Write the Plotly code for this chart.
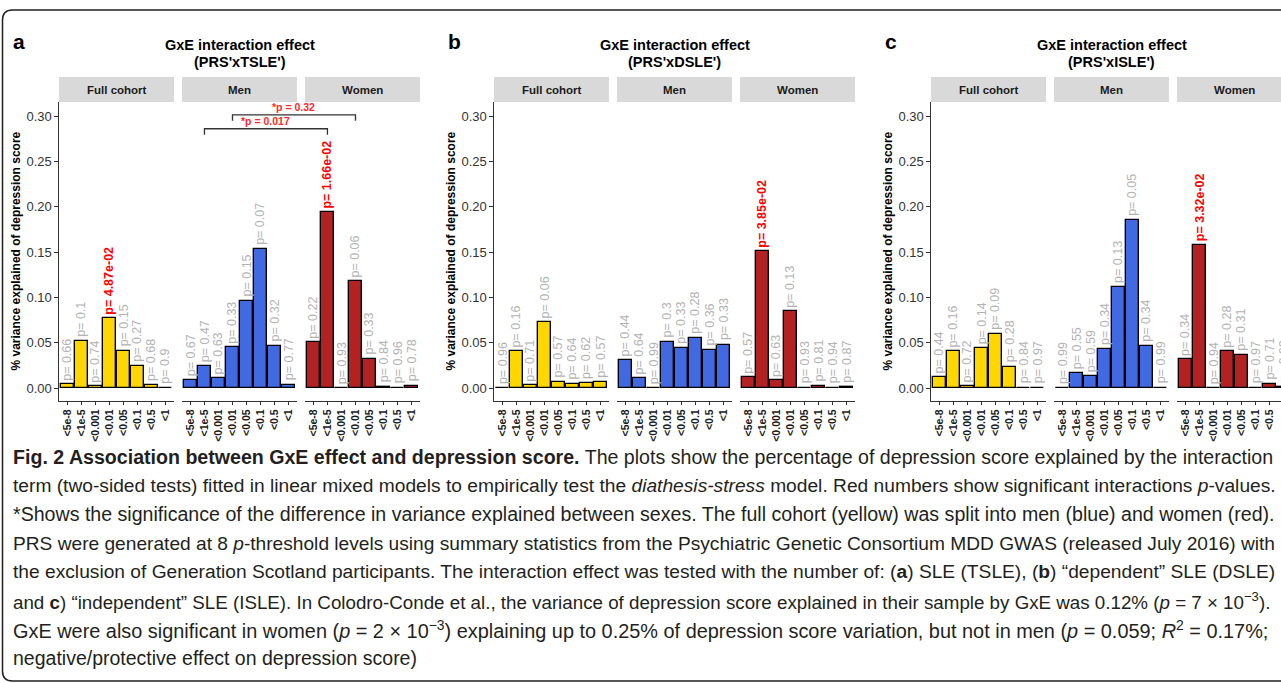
import plotly.graph_objects as go

W, H = 1281, 683

# ---------------- data ----------------
thresholds = ["<5e-8", "<1e-5", "<0.001", "<0.01", "<0.05", "<0.1", "<0.5", "<1"]
groups = ["Full cohort", "Men", "Women"]
panel_letters = ["a", "b", "c"]
panel_models = ["(PRS'xTSLE')", "(PRS'xDSLE')", "(PRS'xISLE')"]
group_colors = ["#FFD700", "#4169E1", "#B22222"]

# % variance explained of depression score
tsle_full  = [0.004, 0.052, 0.002, 0.077, 0.041, 0.024, 0.003, 0.0004]
tsle_men   = [0.009, 0.0245, 0.011, 0.045, 0.096, 0.153, 0.0465, 0.0037]
tsle_women = [0.0505, 0.194, 0.0004, 0.118, 0.032, 0.0015, 0.0004, 0.0026]
dsle_full  = [0.0004, 0.0407, 0.003, 0.0729, 0.0066, 0.0044, 0.0051, 0.0066]
dsle_men   = [0.0308, 0.011, 0.0004, 0.0513, 0.044, 0.055, 0.042, 0.048]
dsle_women = [0.0117, 0.1508, 0.0084, 0.0846, 0.0004, 0.0022, 0.0004, 0.0011]
isle_full  = [0.0121, 0.0407, 0.0022, 0.0443, 0.0593, 0.0234, 0.0005, 0.0004]
isle_men   = [0.0004, 0.0168, 0.0136, 0.0436, 0.111, 0.185, 0.0462, 0.0004]
isle_women = [0.0315, 0.158, 0.0004, 0.0407, 0.0363, 0.0004, 0.0044, 0.0015]

# interaction p-values
tsle_full_p  = [0.66, 0.1, 0.74, 0.0487, 0.15, 0.27, 0.68, 0.9]
tsle_men_p   = [0.67, 0.47, 0.63, 0.33, 0.15, 0.07, 0.32, 0.77]
tsle_women_p = [0.22, 0.0166, 0.93, 0.06, 0.33, 0.84, 0.96, 0.78]
dsle_full_p  = [0.96, 0.16, 0.71, 0.06, 0.57, 0.64, 0.62, 0.57]
dsle_men_p   = [0.44, 0.64, 0.99, 0.3, 0.33, 0.28, 0.36, 0.33]
dsle_women_p = [0.57, 0.0385, 0.63, 0.13, 0.93, 0.81, 0.94, 0.87]
isle_full_p  = [0.44, 0.16, 0.72, 0.14, 0.09, 0.28, 0.84, 0.97]
isle_men_p   = [0.99, 0.55, 0.59, 0.34, 0.13, 0.05, 0.34, 0.99]
isle_women_p = [0.34, 0.0332, 0.94, 0.28, 0.31, 0.97, 0.71, 0.92]

# sex-difference comparisons (panel a): threshold compared, bracket height, label
sexdiff_thresholds = ["<1e-5", "<0.01"]
sexdiff_heights = [0.286, 0.3014]
sexdiff_labels = ["*p = 0.017", "*p = 0.32"]

y_ticks = [0.00, 0.05, 0.10, 0.15, 0.20, 0.25, 0.30]

caption_lines = [
    "<b>Fig. 2 Association between GxE effect and depression score.</b> The plots show the percentage of depression score explained by the interaction",
    "term (two-sided tests) fitted in linear mixed models to empirically test the <i>diathesis-stress</i> model. Red numbers show significant interactions <i>p</i>-values.",
    "*Shows the significance of the difference in variance explained between sexes. The full cohort (yellow) was split into men (blue) and women (red).",
    "PRS were generated at 8 <i>p</i>-threshold levels using summary statistics from the Psychiatric Genetic Consortium MDD GWAS (released July 2016) with",
    "the exclusion of Generation Scotland participants. The interaction effect was tested with the number of: (<b>a</b>) SLE (TSLE), (<b>b</b>) \u201cdependent\u201d SLE (DSLE)",
    "and <b>c</b>) \u201cindependent\u201d SLE (ISLE). In Colodro-Conde et al., the variance of depression score explained in their sample by GxE was 0.12% (<i>p</i> = 7 \u00d7 10<sup>\u22123</sup>).",
    "GxE were also significant in women (<i>p</i> = 2 \u00d7 10<sup>\u22123</sup>) explaining up to 0.25% of depression score variation, but not in men (<i>p</i> = 0.059; <i>R</i><sup>2</sup> = 0.17%;",
    "negative/protective effect on depression score)",
]
# per-line font sizes so that lines 1-7 reach the right margin (justified look)
caption_sizes = [19.6, 19.2, 19.6, 19.15, 19.2, 18.75, 19.9, 19.5]

values = [[tsle_full, tsle_men, tsle_women],
          [dsle_full, dsle_men, dsle_women],
          [isle_full, isle_men, isle_women]]
pvals = [[tsle_full_p, tsle_men_p, tsle_women_p],
         [dsle_full_p, dsle_men_p, dsle_women_p],
         [isle_full_p, isle_men_p, isle_women_p]]

# ---------------- layout geometry (pixels) ----------------
FONT = "Liberation Sans, Arial, Helvetica, sans-serif"
facet_px = [[(59, 174), (182, 297), (305, 420)],
            [(494, 609), (617, 732), (740, 855)],
            [(931, 1046), (1054, 1169), (1177, 1292)]]
PLOT_TOP, PLOT_BOT = 102, 401
STRIP_TOP = 77
Y0, Y1 = -0.0143, 0.3155
UNITS_PER_PX = 8.2 / 115.0
CAP_Y0, CAP_DY = 457, 28.7


def px(x):
    return x / W


def py(y):
    return 1 - y / H


yd = [py(PLOT_BOT), py(PLOT_TOP)]

fig = go.Figure()
layout = dict(width=W, height=H, margin=dict(l=0, r=0, t=0, b=0),
              paper_bgcolor="white", plot_bgcolor="white", showlegend=False,
              bargap=0, font=dict(family=FONT))
annotations = []
shapes = []
xinfo = {}


def xpaper(p, g, idx):
    dom, (r0, r1) = xinfo[(p, g)]
    return dom[0] + (idx - r0) / (r1 - r0) * (dom[1] - dom[0])


def ypaper(v):
    return yd[0] + (v - Y0) / (Y1 - Y0) * (yd[1] - yd[0])


for p in range(3):
    yname = "y" if p == 0 else f"y{p+1}"
    for g in range(3):
        xi = p * 3 + g + 1
        xname = "x" if xi == 1 else f"x{xi}"
        x0p, x1p = facet_px[p][g]
        vis1 = min(x1p, W)
        r0 = -0.6
        r1 = r0 + (vis1 - x0p) * UNITS_PER_PX
        dom = [px(x0p), px(vis1)]
        xinfo[(p, g)] = (dom, (r0, r1))
        fig.add_trace(go.Bar(
            x=list(range(len(thresholds))), y=values[p][g], width=0.9,
            marker=dict(color=group_colors[g], line=dict(color="black", width=1.35)),
            xaxis=xname, yaxis=yname, hoverinfo="skip"))
        layout["xaxis" if xi == 1 else f"xaxis{xi}"] = dict(
            domain=dom, anchor=yname, range=[r0, r1],
            tickmode="array", tickvals=list(range(len(thresholds))), ticktext=thresholds,
            tickangle=-90, tickfont=dict(size=10.5, color="#1a1a1a", family=FONT, weight="bold"),
            showline=True, linecolor="#333333", linewidth=1.3,
            ticks="outside", ticklen=3, tickcolor="#333333", tickwidth=1,
            showgrid=False, zeroline=False, fixedrange=True)
        # strip
        shapes.append(dict(type="rect", xref="paper", yref="paper",
                           x0=px(x0p), x1=px(x1p), y0=py(PLOT_TOP), y1=py(STRIP_TOP),
                           fillcolor="#D9D9D9", line=dict(width=0), layer="below"))
        annotations.append(dict(xref="paper", yref="paper", x=px((x0p + x1p) / 2),
                                y=py((STRIP_TOP + PLOT_TOP) / 2), text=groups[g],
                                showarrow=False, xanchor="center", yanchor="middle",
                                font=dict(size=11.5, color="#1a1a1a", weight="bold")))
        # p-value labels
        for i, (v, pv) in enumerate(zip(values[p][g], pvals[p][g])):
            sig = pv < 0.05
            lab = f"p= {pv:.2e}" if sig else f"p= {pv:g}"
            font = dict(size=12.5, color="#FF0000" if sig else "#B3B3B3",
                        weight="bold" if sig else "normal")
            if i <= r1:
                annotations.append(dict(
                    xref=xname, yref=yname, x=i, y=v, yshift=2, text=lab, textangle=-90,
                    showarrow=False, xanchor="center", yanchor="bottom", font=font))
            else:
                # label of a bar cut by the right edge of the figure
                annotations.append(dict(
                    xref="paper", yref="paper", x=xpaper(p, g, i), y=ypaper(v), yshift=2,
                    text=lab, textangle=-90, showarrow=False,
                    xanchor="center", yanchor="bottom", font=font))
    first_x = "x" if p == 0 else f"x{p*3+1}"
    layout["yaxis" if p == 0 else f"yaxis{p+1}"] = dict(
        domain=yd, anchor=first_x, range=[Y0, Y1],
        tickmode="array", tickvals=y_ticks, ticktext=[f"{t:.2f}" for t in y_ticks],
        tickfont=dict(size=13, color="#333333"),
        showline=True, linecolor="#333333", linewidth=1.3,
        ticks="outside", ticklen=3.5, tickcolor="#333333",
        showgrid=False, zeroline=False, fixedrange=True)
    # panel title, letter, y-title
    left = facet_px[p][0][0]
    right = facet_px[p][2][1]
    cx = (left + right) / 2
    annotations.append(dict(xref="paper", yref="paper", x=px(cx), y=py(45),
                            text="GxE interaction effect", showarrow=False,
                            xanchor="center", yanchor="middle",
                            font=dict(size=14.5, color="black", weight="bold")))
    annotations.append(dict(xref="paper", yref="paper", x=px(cx), y=py(62),
                            text=panel_models[p], showarrow=False,
                            xanchor="center", yanchor="middle",
                            font=dict(size=14.5, color="black", weight="bold")))
    annotations.append(dict(xref="paper", yref="paper", x=px(left - 48), y=py(41),
                            text=panel_letters[p], showarrow=False,
                            xanchor="left", yanchor="middle",
                            font=dict(size=21, color="black", weight="bold")))
    annotations.append(dict(xref="paper", yref="paper", x=px(left - 43),
                            y=py((PLOT_TOP + PLOT_BOT) / 2),
                            text="% variance explained of depression score", textangle=-90,
                            showarrow=False, xanchor="center", yanchor="middle",
                            font=dict(size=12, color="black", weight="bold")))

# sex-difference brackets on panel a (Men vs Women facets)
for thr, hgt, lab in zip(sexdiff_thresholds, sexdiff_heights, sexdiff_labels):
    idx = thresholds.index(thr)
    xa = xpaper(0, 1, idx)
    xb = xpaper(0, 2, idx)
    ytop = ypaper(hgt)
    ydrop = ypaper(hgt - 0.0065)
    shapes.append(dict(type="path", xref="paper", yref="paper",
                       path=f"M{xa},{ydrop} L{xa},{ytop} L{xb},{ytop} L{xb},{ydrop}",
                       line=dict(color="#333333", width=1.3)))
    annotations.append(dict(xref="paper", yref="paper", x=(xa + xb) / 2, y=ypaper(hgt + 0.0087),
                            text=lab, showarrow=False, xanchor="center", yanchor="middle",
                            font=dict(size=10.5, color="#FF2A2A", weight="bold")))

# caption
for k, (line, fs) in enumerate(zip(caption_lines, caption_sizes)):
    annotations.append(dict(xref="paper", yref="paper", x=px(11), y=py(CAP_Y0 + CAP_DY * k),
                            text=line, showarrow=False, xanchor="left", yanchor="middle",
                            align="left",
                            font=dict(size=fs, color="#231F20", family=FONT)))

# rounded border box
bx0, by0, bx1, by1, r = 2.5, 10, 1300, 681, 10
pth = (f"M{px(bx0 + r)},{py(by0)} L{px(bx1 - r)},{py(by0)} "
       f"Q{px(bx1)},{py(by0)} {px(bx1)},{py(by0 + r)} L{px(bx1)},{py(by1 - r)} "
       f"Q{px(bx1)},{py(by1)} {px(bx1 - r)},{py(by1)} L{px(bx0 + r)},{py(by1)} "
       f"Q{px(bx0)},{py(by1)} {px(bx0)},{py(by1 - r)} L{px(bx0)},{py(by0 + r)} "
       f"Q{px(bx0)},{py(by0)} {px(bx0 + r)},{py(by0)} Z")
shapes.append(dict(type="path", xref="paper", yref="paper", path=pth,
                   line=dict(color="#231F20", width=1.5)))

layout["annotations"] = annotations
layout["shapes"] = shapes
fig.update_layout(**layout)

fig.write_html("out.html", config={"displayModeBar": False},
               post_script="document.body.style.margin='0';document.body.style.overflow='hidden';")
